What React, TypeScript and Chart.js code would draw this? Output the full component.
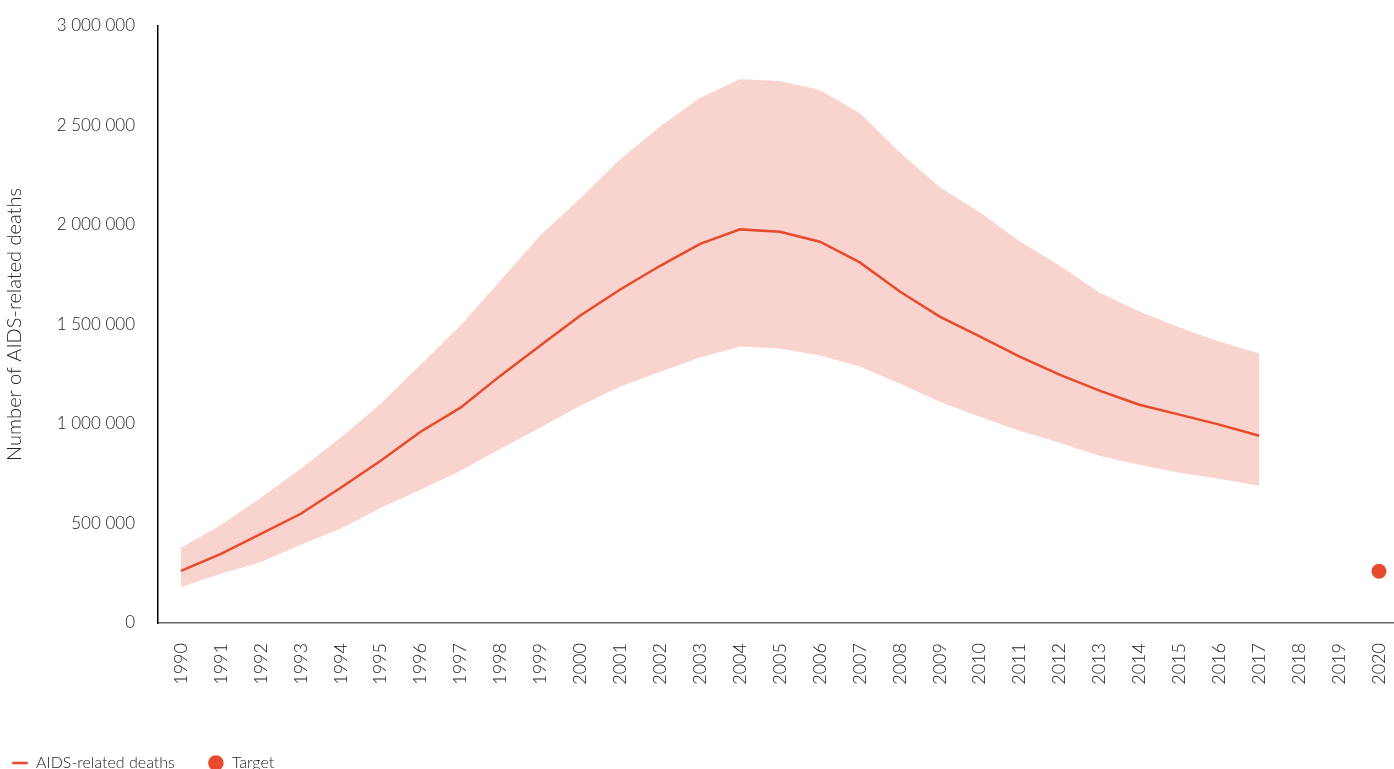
import React, { useEffect, useRef } from 'react';
import { Chart, registerables } from 'chart.js';

Chart.register(...registerables);

// ---- Data ----
const years = [1990, 1991, 1992, 1993, 1994, 1995, 1996, 1997, 1998, 1999, 2000, 2001, 2002, 2003, 2004, 2005, 2006, 2007, 2008, 2009, 2010, 2011, 2012, 2013, 2014, 2015, 2016, 2017];
const deaths = [262000, 347000, 448000, 549000, 680000, 815000, 961000, 1082000, 1243000, 1394000, 1545000, 1676000, 1795000, 1905000, 1978000, 1966000, 1916000, 1812000, 1666000, 1540000, 1440000, 1339000, 1248000, 1168000, 1097000, 1047000, 997000, 941000];
const upperBound = [378000, 493000, 629000, 775000, 931000, 1102000, 1299000, 1495000, 1721000, 1948000, 2134000, 2331000, 2495000, 2640000, 2733000, 2723000, 2678000, 2562000, 2366000, 2190000, 2064000, 1918000, 1797000, 1661000, 1565000, 1485000, 1414000, 1354000];
const lowerBound = [181000, 247000, 307000, 393000, 473000, 579000, 669000, 765000, 876000, 982000, 1092000, 1188000, 1263000, 1334000, 1389000, 1379000, 1344000, 1289000, 1203000, 1112000, 1037000, 966000, 906000, 841000, 795000, 755000, 725000, 690000];
const targetYear = 2020;
const targetValue = 260000;
const xTickYears = [1990, 1991, 1992, 1993, 1994, 1995, 1996, 1997, 1998, 1999, 2000, 2001, 2002, 2003, 2004, 2005, 2006, 2007, 2008, 2009, 2010, 2011, 2012, 2013, 2014, 2015, 2016, 2017, 2018, 2019, 2020];
const yTickValues = [0, 500000, 1000000, 1500000, 2000000, 2500000, 3000000];

const seriesLabel = 'AIDS-related deaths';
const targetLabel = 'Target';
const yTitle = 'Number of AIDS-related deaths';

const LINE_COLOR = '#E84A2F';
const BAND_COLOR = '#F9D3CD';
const TEXT_COLOR = '#222222';
const FONT = "Lato, 'Open Sans', sans-serif";
const WEIGHT = '300';

const fmt = (v: number) => String(v).replace(/\B(?=(\d{3})+(?!\d))/g, ' ');

const legendShift = {
  id: 'legendShift',
  afterLayout(chart: any) {
    if (chart.legend) chart.legend.left -= 21;
  },
};

export default function App() {
  const ref = useRef<HTMLCanvasElement | null>(null);

  useEffect(() => {
    document.body.style.margin = '0';
    const canvas = ref.current;
    if (!canvas) return;
    const pts = (arr: number[]) => years.map((y, i) => ({ x: y, y: arr[i] }));
    const chart = new Chart(canvas, {
      type: 'line',
      data: {
        datasets: [
          {
            label: seriesLabel,
            data: pts(deaths),
            borderColor: LINE_COLOR,
            backgroundColor: LINE_COLOR,
            borderWidth: 2.5,
            pointRadius: 0,
            pointStyle: 'line',
            fill: false,
            tension: 0,
            order: 0,
          },
          {
            label: 'upper',
            data: pts(upperBound),
            borderWidth: 0,
            borderColor: 'rgba(0,0,0,0)',
            backgroundColor: BAND_COLOR,
            pointRadius: 0,
            fill: '+1',
            order: 2,
          },
          {
            label: 'lower',
            data: pts(lowerBound),
            borderWidth: 0,
            borderColor: 'rgba(0,0,0,0)',
            backgroundColor: BAND_COLOR,
            pointRadius: 0,
            fill: false,
            order: 3,
          },
          {
            label: targetLabel,
            data: [{ x: targetYear, y: targetValue }],
            showLine: false,
            borderWidth: 0,
            borderColor: LINE_COLOR,
            backgroundColor: LINE_COLOR,
            pointBackgroundColor: LINE_COLOR,
            pointRadius: 7.5,
            pointStyle: 'circle',
            order: 1,
          },
        ],
      } as any,
      options: {
        responsive: false,
        animation: false,
        layout: { autoPadding: false, padding: { top: 26, right: 0, left: 0, bottom: 0 } },
        plugins: {
          tooltip: { enabled: false },
          legend: {
            position: 'bottom',
            align: 'start',
            labels: {
              usePointStyle: true,
              boxWidth: 16,
              boxHeight: 11,
              padding: 33,
              color: TEXT_COLOR,
              font: { family: FONT, size: 16, weight: WEIGHT },
              filter: (item: any) => item.datasetIndex === 0 || item.datasetIndex === 3,
            },
          },
        },
        scales: {
          x: {
            type: 'linear',
            min: 1989.424,
            max: 2020.376,
            grid: { display: false, drawTicks: false },
            border: { display: true, color: '#6a6a6a', width: 1.5 },
            afterBuildTicks: (scale: any) => {
              scale.ticks = xTickYears.map((v) => ({ value: v }));
            },
            afterFit: (scale: any) => {
              scale.height = 99;
              scale.paddingRight = 0;
              scale.paddingLeft = 0;
            },
            ticks: {
              autoSkip: false,
              minRotation: 90,
              maxRotation: 90,
              padding: 20,
              color: TEXT_COLOR,
              font: { family: FONT, size: 18, weight: WEIGHT },
              callback: (v: any) => String(v),
            },
          },
          y: {
            type: 'linear',
            min: 0,
            max: 3000000,
            grid: { display: false, drawTicks: false },
            border: { display: true, color: '#000000', width: 1.5 },
            afterBuildTicks: (scale: any) => {
              scale.ticks = yTickValues.map((v) => ({ value: v }));
            },
            afterFit: (scale: any) => {
              scale.width = 158;
              scale.paddingTop = 0;
              scale.paddingBottom = 0;
            },
            title: {
              display: true,
              text: yTitle,
              color: TEXT_COLOR,
              font: { family: FONT, size: 20, weight: WEIGHT },
              padding: { top: 3, bottom: 0 },
            },
            ticks: {
              padding: 23,
              color: TEXT_COLOR,
              font: { family: FONT, size: 17, weight: WEIGHT },
              callback: (v: any) => fmt(Number(v)),
            },
          },
        },
      } as any,
      plugins: [legendShift],
    });
    return () => chart.destroy();
  }, []);

  return (
    <div style={{ width: 1394, height: 769, overflow: 'hidden' }}>
      <canvas ref={ref} width={1394} height={781} style={{ display: 'block' }} />
    </div>
  );
}
